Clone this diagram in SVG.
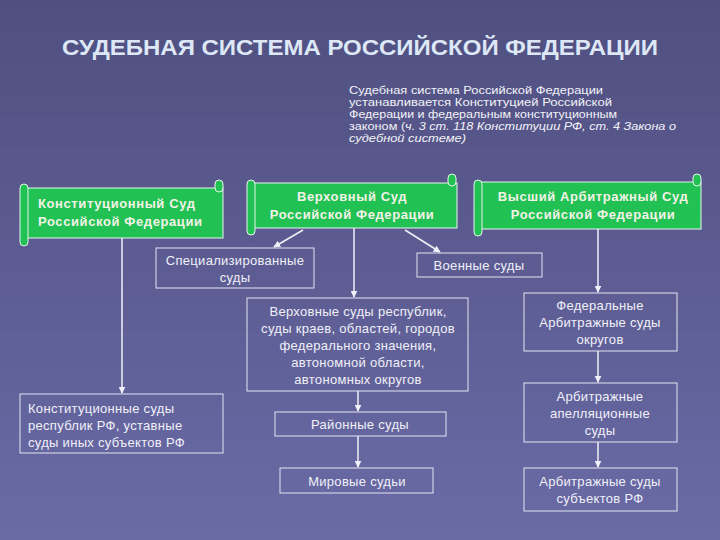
<svg xmlns="http://www.w3.org/2000/svg" width="720" height="540" viewBox="0 0 720 540">
<defs>
<linearGradient id="bg" x1="0" y1="0" x2="0" y2="1">
<stop offset="0" stop-color="#4f4f80"/>
<stop offset="1" stop-color="#6a6aa6"/>
</linearGradient>
<marker id="arr" viewBox="0 0 10 10" refX="9" refY="5" markerWidth="7" markerHeight="7" orient="auto" markerUnits="userSpaceOnUse">
<path d="M0,0 L10,5 L0,10 z" fill="#f0f0f8"/>
</marker>
<style>
.title{font-family:"Liberation Sans",Arial,sans-serif;font-weight:bold;font-size:22px;fill:#dde7f6}
.para{font-family:"Liberation Sans",Arial,sans-serif;font-size:11.5px;fill:#f2f2f8}
.it{font-style:italic}
.g{fill:#22c154;stroke:#e8f4ec;stroke-width:1}
.gt{font-family:"Liberation Sans",Arial,sans-serif;font-weight:bold;font-size:13px;fill:#f2f2e6;letter-spacing:0.6px}
.box{fill:none;stroke:#e4e4f2;stroke-width:1}
.bt{font-family:"Liberation Sans",Arial,sans-serif;font-size:13px;fill:#f0f0f8;letter-spacing:0.3px}
.c{text-anchor:middle}
.ln{stroke:#f0f0f8;stroke-width:1.5;fill:none;marker-end:url(#arr)}
.grid{stroke:#8a8ac0;stroke-width:1;opacity:0.12}
</style>
</defs>
<rect width="720" height="540" fill="url(#bg)"/>
<g class="grid">
<line x1="0" y1="120" x2="720" y2="120"/>
<line x1="0" y1="150" x2="720" y2="150"/>
<line x1="0" y1="245" x2="720" y2="245"/>
<line x1="0" y1="335" x2="720" y2="335"/>
</g>

<text class="title c" x="360" y="55" textLength="596" lengthAdjust="spacingAndGlyphs">СУДЕБНАЯ СИСТЕМА РОССИЙСКОЙ ФЕДЕРАЦИИ</text>

<g id="intro" class="para">
<text x="349" y="94" textLength="254" lengthAdjust="spacingAndGlyphs">Судебная система Российской Федерации</text>
<text x="349" y="106" textLength="263" lengthAdjust="spacingAndGlyphs">устанавливается Конституцией Российской</text>
<text x="349" y="118" textLength="268" lengthAdjust="spacingAndGlyphs">Федерации и федеральным конституционным</text>
<text x="349" y="130" textLength="327" lengthAdjust="spacingAndGlyphs">законом (<tspan class="it">ч. 3 ст. 118 Конституции РФ, ст. 4 Закона о</tspan></text>
<text x="349" y="142" class="it" textLength="117" lengthAdjust="spacingAndGlyphs">судебной системе)</text>
</g>

<g id="connectors">
<line class="ln" x1="122" y1="238" x2="122" y2="393"/>
<line class="ln" x1="303" y1="230" x2="274" y2="247"/>
<line class="ln" x1="405" y1="230" x2="440" y2="252"/>
<line class="ln" x1="354" y1="228" x2="354" y2="297"/>
<line class="ln" x1="358" y1="391" x2="358" y2="411"/>
<line class="ln" x1="358" y1="436" x2="358" y2="467"/>
<line class="ln" x1="598" y1="229" x2="598" y2="292"/>
<line class="ln" x1="598" y1="351" x2="598" y2="382"/>
<line class="ln" x1="598" y1="442" x2="598" y2="467"/>
</g>

<g id="const-court">
<rect class="g" x="27" y="188" width="196" height="50"/>
<rect class="g" x="215" y="180" width="8" height="12" rx="4"/>
<rect class="g" x="20" y="184" width="8" height="62" rx="4"/>
<text class="gt" x="38" y="208">Конституционный Суд</text>
<text class="gt" x="38" y="226">Российской Федерации</text>
</g>

<g id="supreme-court">
<rect class="g" x="254" y="183" width="203" height="45"/>
<rect class="g" x="448" y="174" width="8" height="12" rx="4"/>
<rect class="g" x="247" y="180" width="8" height="55" rx="4"/>
<text class="gt c" x="352" y="201">Верховный Суд</text>
<text class="gt c" x="352" y="219">Российской Федерации</text>
</g>

<g id="arbitration-court">
<rect class="g" x="481" y="182" width="220" height="47"/>
<rect class="g" x="693" y="174" width="8" height="12" rx="4"/>
<rect class="g" x="474" y="180" width="8" height="56" rx="4"/>
<text class="gt c" x="593" y="201">Высший Арбитражный Суд</text>
<text class="gt c" x="593" y="219">Российской Федерации</text>
</g>

<g id="specialized">
<rect class="box" x="156" y="248" width="158" height="40"/>
<text class="bt c" x="235" y="265">Специализированные</text>
<text class="bt c" x="235" y="282">суды</text>
</g>

<g id="military">
<rect class="box" x="417" y="253" width="125" height="24"/>
<text class="bt c" x="479" y="270">Военные суды</text>
</g>

<g id="regional-supreme">
<rect class="box" x="247" y="298" width="221" height="93"/>
<text class="bt c" x="358" y="316">Верховные суды республик,</text>
<text class="bt c" x="358" y="333">суды краев, областей, городов</text>
<text class="bt c" x="358" y="350">федерального значения,</text>
<text class="bt c" x="358" y="367">автономной области,</text>
<text class="bt c" x="358" y="384">автономных округов</text>
</g>

<g id="district">
<rect class="box" x="275" y="412" width="171" height="24"/>
<text class="bt c" x="360" y="429">Районные суды</text>
</g>

<g id="magistrates">
<rect class="box" x="280" y="468" width="153" height="25"/>
<text class="bt c" x="357" y="486">Мировые судьи</text>
</g>

<g id="subject-const">
<rect class="box" x="20" y="394" width="203" height="59"/>
<text class="bt" x="28" y="413">Конституционные суды</text>
<text class="bt" x="28" y="430">республик РФ, уставные</text>
<text class="bt" x="28" y="447">суды иных субъектов РФ</text>
</g>

<g id="federal-arb">
<rect class="box" x="524" y="293" width="153" height="58"/>
<text class="bt c" x="600" y="310">Федеральные</text>
<text class="bt c" x="600" y="327">Арбитражные суды</text>
<text class="bt c" x="600" y="344">округов</text>
</g>

<g id="appeal-arb">
<rect class="box" x="524" y="383" width="153" height="59"/>
<text class="bt c" x="600" y="401">Арбитражные</text>
<text class="bt c" x="600" y="418">апелляционные</text>
<text class="bt c" x="600" y="435">суды</text>
</g>

<g id="subject-arb">
<rect class="box" x="524" y="468" width="153" height="43"/>
<text class="bt c" x="600" y="486">Арбитражные суды</text>
<text class="bt c" x="600" y="503">субъектов РФ</text>
</g>
</svg>
